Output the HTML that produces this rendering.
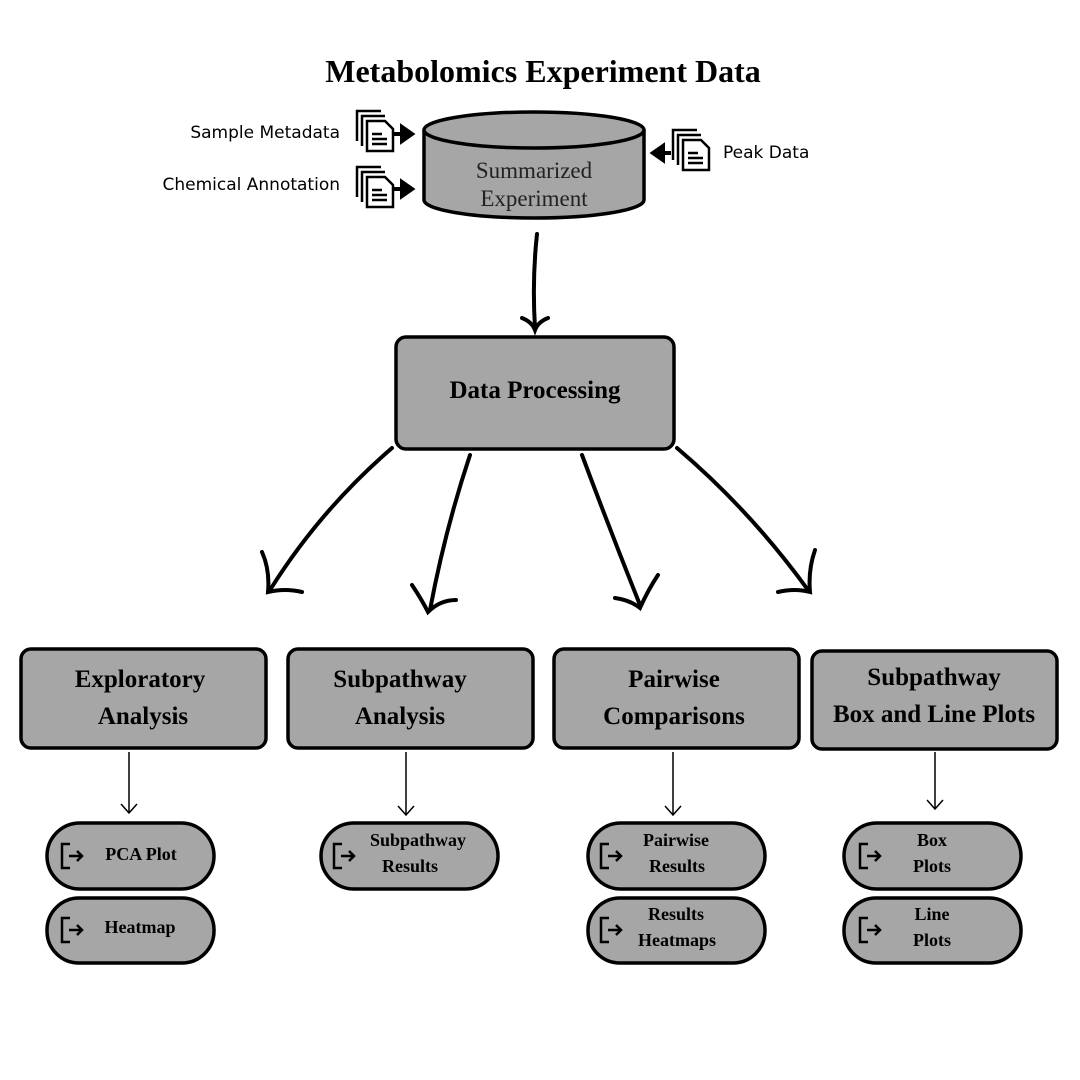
<!DOCTYPE html>
<html><head><style>body{margin:0;background:#fff}svg{display:block}</style></head><body>
<svg width="1080" height="1080" viewBox="0 0 1080 1080" xmlns="http://www.w3.org/2000/svg">
<defs>
<g id="doc">
<path d="M0 30 V0 H24" fill="none" stroke="#000" stroke-width="2.5"/>
<path d="M5 35 V5 H28" fill="none" stroke="#000" stroke-width="2.5"/>
<path d="M10 40 V10 H28 L36 18 V40 Z" fill="#fff" stroke="#000" stroke-width="2.5"/>
<path d="M15 23 H25 M15 28 H30 M15 33 H30" stroke="#000" stroke-width="2.5"/>
</g>
<g id="ex">
<path d="M8 -12 H0 V12 H8" fill="none" stroke="#000" stroke-width="2.5"/>
<path d="M7 0 H20 M15 -5 L20 0 L15 5" fill="none" stroke="#000" stroke-width="2.5"/>
</g>
</defs>
<style>
text{font-family:"Liberation Serif",serif;font-weight:bold;fill:#000}
.s{font-family:"DejaVu Sans",sans-serif;font-weight:normal;font-size:17px}
.b{fill:#a6a6a6;stroke:#000;stroke-width:3.5}
.a{fill:none;stroke:#000;stroke-width:4;stroke-linecap:round}
.t{fill:none;stroke:#000;stroke-width:1.5}
</style>
<text x="543" y="82" font-size="32" text-anchor="middle">Metabolomics Experiment Data</text>
<text class="s" x="340" y="138" text-anchor="end">Sample Metadata</text>
<text class="s" x="340" y="190" text-anchor="end">Chemical Annotation</text>
<text class="s" x="723" y="158">Peak Data</text>
<use href="#doc" x="357" y="111"/>
<use href="#doc" x="357" y="167"/>
<use href="#doc" x="673" y="130"/>
<path d="M394 134 H404 M402 127 L412 134 L402 141 Z" stroke="#000" stroke-width="4" fill="#000"/>
<path d="M394 189 H404 M402 182 L412 189 L402 196 Z" stroke="#000" stroke-width="4" fill="#000"/>
<path d="M671 153 H661 M663 146 L653 153 L663 160 Z" stroke="#000" stroke-width="4" fill="#000"/>
<path d="M424 130 V200 A110 18 0 0 0 644 200 V130" class="b" stroke-width="3"/>
<ellipse cx="534" cy="130" rx="110" ry="18" class="b" stroke-width="3"/>
<text x="534" y="178" font-size="23" text-anchor="middle" style="font-weight:normal;fill:#222">Summarized</text>
<text x="534" y="206" font-size="23" text-anchor="middle" style="font-weight:normal;fill:#222">Experiment</text>
<path class="a" stroke-width="3" d="M537 234 Q532 280 535 328 M522 318 Q532 322 535 330 Q538 322 548 318"/>
<rect x="396" y="337" width="278" height="112" rx="10" class="b"/>
<text x="535" y="398" font-size="25" text-anchor="middle">Data Processing</text>
<path class="a" d="M392 448 Q320 510 270 590 M262 552 Q270 570 268 592 Q285 588 302 592"/>
<path class="a" d="M470 455 Q445 530 430 610 M412 585 Q422 600 428 612 Q440 600 456 600"/>
<path class="a" d="M582 455 Q610 530 640 605 M615 598 Q630 600 640 608 Q648 590 658 575"/>
<path class="a" d="M677 448 Q750 510 808 590 M778 592 Q795 588 810 592 Q808 570 815 550"/>
<rect x="21" y="649" width="245" height="99" rx="10" class="b"/>
<rect x="288" y="649" width="245" height="99" rx="10" class="b"/>
<rect x="554" y="649" width="245" height="99" rx="10" class="b"/>
<rect x="812" y="651" width="245" height="98" rx="10" class="b"/>
<g font-size="25" text-anchor="middle">
<text x="140" y="687">Exploratory</text><text x="143" y="724">Analysis</text>
<text x="400" y="687">Subpathway</text><text x="400" y="724">Analysis</text>
<text x="674" y="687">Pairwise</text><text x="674" y="724">Comparisons</text>
<text x="934" y="685">Subpathway</text><text x="934" y="722">Box and Line Plots</text>
</g>
<path class="t" d="M129 752 V812 M121 804 L129 813 L137 804"/>
<path class="t" d="M406 752 V814 M398 806 L406 815 L414 806"/>
<path class="t" d="M673 752 V814 M665 806 L673 815 L681 806"/>
<path class="t" d="M935 752 V808 M927 800 L935 809 L943 800"/>
<g class="b" stroke-width="3.5">
<rect x="47" y="823" width="167" height="66" rx="33"/>
<rect x="47" y="898" width="167" height="65" rx="32"/>
<rect x="321" y="823" width="177" height="66" rx="33"/>
<rect x="588" y="823" width="177" height="66" rx="33"/>
<rect x="588" y="898" width="177" height="65" rx="32"/>
<rect x="844" y="823" width="177" height="66" rx="33"/>
<rect x="844" y="898" width="177" height="65" rx="32"/>
</g>
<use href="#ex" x="62" y="856"/><use href="#ex" x="62" y="930"/>
<use href="#ex" x="334" y="856"/>
<use href="#ex" x="601" y="856"/><use href="#ex" x="601" y="930"/>
<use href="#ex" x="860" y="856"/><use href="#ex" x="860" y="930"/>
<g font-size="18" text-anchor="middle">
<text x="141" y="860">PCA Plot</text>
<text x="140" y="933">Heatmap</text>
<text x="418" y="846">Subpathway</text><text x="410" y="872">Results</text>
<text x="676" y="846">Pairwise</text><text x="677" y="872">Results</text>
<text x="676" y="920">Results</text><text x="677" y="946">Heatmaps</text>
<text x="932" y="846">Box</text><text x="932" y="872">Plots</text>
<text x="932" y="920">Line</text><text x="932" y="946">Plots</text>
</g>
</svg>
</body></html>
